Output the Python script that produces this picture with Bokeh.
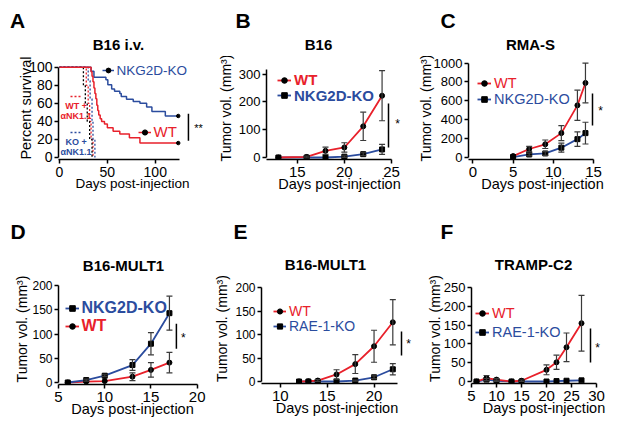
import math
from bokeh.plotting import figure
from bokeh.models import (Range1d, FixedTicker, Label, Legend, LegendItem,
                          Whisker, ColumnDataSource, Arrow, TeeHead, Plot)
from bokeh.layouts import row, column
from bokeh.embed import file_html
from bokeh.resources import INLINE

RED = "#e8212b"
BLUE = "#2b4c9e"
ERR = "#3a3a3a"
FONT = "Liberation Sans"
EXTRA = {"frame_align": False} if "frame_align" in Plot.properties() else {}

# ---------------- data ----------------
# A: survival, B16 i.v.
a_ko_days = [0, 33, 36, 48.5, 50.5, 54.5, 57.5, 63, 64.5, 70, 77, 84, 91, 96.5, 110.5, 124]
a_ko_surv = [100, 95.5, 89, 86, 80.5, 76, 73.5, 71, 67.5, 64.5, 62, 60, 56, 51, 46, 46]
a_wt_days = [0, 33, 34, 35, 36, 37, 38, 39, 40, 41, 42.5, 44, 47, 50, 56, 63, 73, 84, 124]
a_wt_surv = [100, 95, 90, 84, 77, 71, 65, 58, 52, 47, 43, 40, 37, 33, 29, 26, 22, 16, 16]
a_wtnk_days = [0, 28, 30, 31.5, 33, 35]
a_wtnk_surv = [100, 80, 60, 40, 20, 0]
a_blk_days = [0, 25, 27, 29, 31.5, 34]
a_blk_surv = [100, 80, 60, 40, 20, 0]
a_konk_days = [0, 30, 32, 34, 35, 37]
a_konk_surv = [100, 85, 65, 40, 20, 0]

# B: B16
b_days = [13, 16, 18, 20, 22, 24]
b_wt = [0, 2, 24, 36, 112, 222]
b_wt_err = [0, 3, 13, 17, 51, 90]
b_ko = [0, 0, 0, 3, 12, 29]
b_ko_err = [0, 0, 0, 3, 5, 18]

# C: RMA-S
c_days = [5, 7, 9, 11, 13, 14]
c_wt = [15, 90, 140, 258, 552, 789]
c_wt_err = [0, 28, 45, 79, 160, 210]
c_ko = [5, 32, 43, 104, 194, 258]
c_ko_err = [0, 15, 20, 48, 77, 115]

# D: B16-MULT1 (NKG2D-KO vs WT)
d_days = [6, 8, 10, 13, 15, 17]
d_ko = [0, 5, 14, 36, 80, 143]
d_ko_err = [0, 2, 2, 11, 23, 35]
d_wt = [0, 2, 3, 12, 26, 41]
d_wt_err = [0, 0, 0, 8, 15, 21]

# E: B16-MULT1 (WT vs RAE-1-KO)
e_days = [12, 13, 14, 16, 18, 20, 22]
e_wt = [0, 0.5, 2, 15, 37, 75, 126]
e_wt_err = [0, 0, 2, 10, 20, 34, 48]
e_ko = [0, 0, 0, 0, 2, 9, 26]
e_ko_err = [0, 0, 0, 0, 1, 3, 12]

# F: TRAMP-C2
f_days = [6, 8, 10, 13, 15, 20, 22, 24, 27]
f_wt = [0, 9, 5, 0, 2, 31, 51, 91, 155]
f_wt_err = [0, 7, 3, 0, 2, 13, 19, 38, 74]
f_ko = [0, 5, 2, 0, 0, 0, 1, 2, 3]
f_ko_err = [0, 3, 2, 0, 0, 0, 0, 0, 0]

TUM = "Tumor vol. (mm\u00b3)"
XLAB = "Days post-injection"


# ---------------- helpers ----------------
def header(ox, oy, W, Hh, letter, lx, lcy, title, tx, tcy, tsize="15px"):
    hd = figure(width=W, height=Hh, output_backend="svg", toolbar_location=None,
                x_range=Range1d(0, W), y_range=Range1d(0, Hh),
                x_axis_type=None, y_axis_type=None,
                min_border_left=0, min_border_right=0,
                min_border_top=0, min_border_bottom=0, **EXTRA)
    hd.outline_line_color = None
    hd.background_fill_color = "white"
    hd.border_fill_color = "white"
    hd.add_layout(Label(x=lx - ox, y=Hh - (lcy - oy), text=letter, text_font=FONT,
                        text_font_size="21px", text_font_style="bold",
                        text_align="left", text_baseline="middle",
                        text_color="black"))
    hd.add_layout(Label(x=tx - ox, y=Hh - (tcy - oy), text=title, text_font=FONT,
                        text_font_size=tsize, text_font_style="bold",
                        text_align="center", text_baseline="middle",
                        text_color="black"))
    return hd


def make_panel(ox, oy, W, H, Hh, xlo, xhi, xpx0, xpx1, ymax, ypx0, ypxmax,
               xticks, yticks, xts, yts, ylab, ylab_size, ylab_s, xlab_size, xlab_s):
    ppx = (xpx1 - xpx0) / (xhi - xlo)
    ppy = (ypx0 - ypxmax) / ymax
    fig_top = oy + Hh
    fr_right = ox + W
    fr_bot = ypx0 + 2
    p = figure(width=W, height=H - Hh, output_backend="svg", toolbar_location=None,
               x_range=Range1d(xlo, xlo + (fr_right - xpx0) / ppx),
               y_range=Range1d(-(fr_bot - ypx0) / ppy, (ypx0 - fig_top) / ppy),
               min_border_left=int(round(xpx0 - ox)), min_border_right=0,
               min_border_top=0, min_border_bottom=int(round(oy + H - fr_bot)),
               **EXTRA)
    p.outline_line_color = None
    p.grid.visible = False
    p.background_fill_color = "white"
    p.border_fill_color = "white"
    for ax, ticks, fs in ((p.xaxis, xticks, xts), (p.yaxis, yticks, yts)):
        ax.ticker = FixedTicker(ticks=ticks)
        ax.axis_line_width = 1.5
        ax.axis_line_color = "black"
        ax.major_tick_line_width = 1.5
        ax.major_tick_line_color = "black"
        ax.major_tick_out = 4
        ax.major_tick_in = 0
        ax.minor_tick_line_color = None
        ax.major_label_text_font = FONT
        ax.major_label_text_font_size = fs
        ax.major_label_text_color = "black"
        ax.axis_label_text_font = FONT
        ax.axis_label_text_font_style = "normal"
        ax.axis_label_text_color = "black"
    p.xaxis.bounds = (xlo, xhi)
    p.yaxis.bounds = (0, ymax)
    p.xaxis.major_label_standoff = 3
    p.yaxis.major_label_standoff = 2
    p.yaxis.axis_label = ylab
    p.yaxis.axis_label_text_font_size = ylab_size
    p.yaxis.axis_label_standoff = ylab_s
    p.xaxis.axis_label = XLAB
    p.xaxis.axis_label_text_font_size = xlab_size
    p.xaxis.axis_label_standoff = xlab_s
    return dict(p=p, xlo=xlo, xpx0=xpx0, ppx=ppx, ypx0=ypx0, ppy=ppy,
                left=xpx0, bottom=fr_bot)


def X(m, px):
    return m["xlo"] + (px - m["xpx0"]) / m["ppx"]


def Y(m, py):
    return (m["ypx0"] - py) / m["ppy"]


def label(m, text, px, py, size, color="black", bold=False, align="center",
          baseline="middle"):
    m["p"].add_layout(Label(x=X(m, px), y=Y(m, py), text=text, text_font=FONT,
                            text_font_size=size, text_color=color,
                            text_font_style="bold" if bold else "normal",
                            text_align=align, text_baseline=baseline))


def legend(m, renderers, text, color, gx, yc, size, bold=False, gw=13):
    hh = 16
    leg = Legend(items=[LegendItem(label=text, renderers=list(renderers))],
                 location=(gx - m["left"], m["bottom"] - yc - hh / 2),
                 orientation="vertical", padding=0, margin=0, spacing=0,
                 border_line_alpha=0, background_fill_alpha=0,
                 glyph_width=gw, glyph_height=hh, label_height=hh,
                 label_standoff=3, label_text_font=FONT,
                 label_text_font_size=size, label_text_color=color,
                 label_text_font_style="bold" if bold else "normal",
                 label_text_baseline="middle")
    m["p"].add_layout(leg)


def sig(m, px, py1, py2, star, sx, sy, size="12px"):
    m["p"].add_layout(Arrow(end=None, x_start=X(m, px), y_start=Y(m, py1),
                            x_end=X(m, px), y_end=Y(m, py2),
                            line_color="black", line_width=1.5))
    label(m, star, sx, sy, size)


def errbars(p, days, vals, errs):
    xs, up, lo = [], [], []
    for d, v, e in zip(days, vals, errs):
        if e > 0:
            xs.append(d)
            up.append(v + e)
            lo.append(v - e)
    src = ColumnDataSource(dict(x=xs, upper=up, lower=lo))
    p.add_layout(Whisker(source=src, base="x", upper="upper", lower="lower",
                         line_color=ERR, line_width=1.2, level="glyph",
                         upper_head=TeeHead(size=6, line_color=ERR, line_width=1.2),
                         lower_head=TeeHead(size=6, line_color=ERR, line_width=1.2)))


def tumor(m, days, wt, wt_err, ko, ko_err, ko_on_top=False):
    p = m["p"]
    if ko_on_top:
        lw = p.line(days, wt, line_color=RED, line_width=1.8)
        lk = p.line(days, ko, line_color=BLUE, line_width=1.8)
    else:
        lk = p.line(days, ko, line_color=BLUE, line_width=1.8)
        lw = p.line(days, wt, line_color=RED, line_width=1.8)
    errbars(p, days, wt, wt_err)
    errbars(p, days, ko, ko_err)
    sw = p.scatter(days, wt, marker="circle", size=5, color="black")
    sk = p.scatter(days, ko, marker="square", size=5, color="black")
    return (lw, sw), (lk, sk)


# ---------------- Panel A ----------------
hA = header(0, 0, 206, 56, "A", 9.5, 20, "B16 i.v.", 118, 43.5)
mA = make_panel(0, 0, 206, 210, 56, -1, 125, 58.5, 178.8, 100, 156.7, 66.7,
                [0, 50, 100], [0, 20, 40, 60, 80, 100], "14px", "14px",
                "Percent survival", "14.5px", -8, "13.5px", -4)
pA = mA["p"]
r_wtnk = pA.step(a_wtnk_days, a_wtnk_surv, mode="after", line_color=RED,
                 line_width=1.3, line_dash="2 2")
pA.step(a_blk_days, a_blk_surv, mode="after", line_color="black",
        line_width=1.3, line_dash="2 2")
r_konk = pA.step(a_konk_days, a_konk_surv, mode="after", line_color=BLUE,
                 line_width=1.3, line_dash="2 2")
r_ko = pA.step(a_ko_days, a_ko_surv, mode="after", line_color=BLUE, line_width=1.5)
r_wt = pA.step(a_wt_days, a_wt_surv, mode="after", line_color=RED, line_width=1.5)
m_ko = pA.scatter(a_ko_days[-1:], a_ko_surv[-1:], marker="circle", size=3.5, color="black")
m_wt = pA.scatter(a_wt_days[-1:], a_wt_surv[-1:], marker="circle", size=3.5, color="black")
legend(mA, (r_ko, m_ko), "NKG2D-KO", BLUE, 102, 70, "13.5px", gw=12)
legend(mA, (r_wt, m_wt), "WT", RED, 138, 132, "15px", gw=13)
legend(mA, (r_wtnk,), " ", RED, 70, 96, "9px", gw=12)
legend(mA, (r_konk,), " ", BLUE, 70, 132, "9px", gw=12)
label(mA, "WT +", 76, 105, "9px", RED, bold=True)
label(mA, "\u03b1NK1.1", 76, 115, "9px", RED, bold=True)
label(mA, "KO +", 76, 141, "9px", BLUE, bold=True)
label(mA, "\u03b1NK1.1", 76, 151, "9px", BLUE, bold=True)
sig(mA, 188, 113, 140, "**", 198, 127, "11px")

# ---------------- Panel B ----------------
hB = header(206, 0, 206, 56, "B", 235, 20, "B16", 318, 43.5)
mB = make_panel(206, 0, 206, 210, 56, 11.74, 25, 266, 391, 318, 157, 68.5,
                [15, 20, 25], [0, 100, 200, 300], "15px", "13px",
                TUM, "14px", 2, "14.5px", -4)
wtB, koB = tumor(mB, b_days, b_wt, b_wt_err, b_ko, b_ko_err)
legend(mB, wtB, "WT", RED, 277, 80, "15px", bold=True, gw=14)
legend(mB, koB, "NKG2D-KO", BLUE, 277, 95.5, "15px", bold=True, gw=14)
sig(mB, 388, 103, 147, "*", 397, 123)

# ---------------- Panel C ----------------
hC = header(412, 0, 204, 56, "C", 440, 20, "RMA-S", 530, 43.5)
mC = make_panel(412, 0, 204, 210, 56, -0.55, 15, 468, 593, 1000, 157, 62.5,
                [0, 5, 10, 15], [0, 200, 400, 600, 800, 1000], "15px", "13px",
                TUM, "14px", -3, "14.5px", -4)
wtC, koC = tumor(mC, c_days, c_wt, c_wt_err, c_ko, c_ko_err)
legend(mC, wtC, "WT", RED, 477, 83, "14.5px", gw=14)
legend(mC, koC, "NKG2D-KO", BLUE, 477, 98.5, "14.5px", gw=14)
sig(mC, 592, 93, 125, "*", 600, 110)

# ---------------- Panel D ----------------
hD = header(0, 210, 206, 63, "D", 10, 231, "B16-MULT1", 123, 264.5)
mD = make_panel(0, 210, 206, 211, 63, 5, 20, 58.5, 196.7, 200, 381.7, 285,
                [5, 10, 15, 20], [0, 50, 100, 150, 200], "15px", "12px",
                TUM, "14px", -1, "14.5px", -4)
wtD, koD = tumor(mD, d_days, d_wt, d_wt_err, d_ko, d_ko_err, ko_on_top=True)
legend(mD, koD, "NKG2D-KO", BLUE, 65, 308.5, "16px", bold=True, gw=14)
legend(mD, wtD, "WT", RED, 65, 326.5, "16px", bold=True, gw=14)
sig(mD, 176, 323, 348, "*", 183, 337)

# ---------------- Panel E ----------------
hE = header(206, 210, 206, 63, "E", 233, 231, "B16-MULT1", 325, 263.5)
mE = make_panel(206, 210, 206, 211, 63, 8, 22.5, 261, 397, 200, 381, 287,
                [10, 15, 20], [0, 50, 100, 150, 200], "15px", "12px",
                TUM, "14px", 2, "14.5px", -4)
wtE, koE = tumor(mE, e_days, e_wt, e_wt_err, e_ko, e_ko_err)
legend(mE, wtE, "WT", RED, 273, 311, "14px")
legend(mE, koE, "RAE-1-KO", BLUE, 273, 326, "14px")
sig(mE, 401, 331, 355, "*", 408, 343)

# ---------------- Panel F ----------------
hF = header(412, 210, 204, 63, "F", 440, 231, "TRAMP-C2", 533, 263.5)
mF = make_panel(412, 210, 204, 211, 63, 5, 30, 471, 596, 250, 381, 287,
                [5, 10, 15, 20, 25, 30], [0, 50, 100, 150, 200, 250], "15px", "13px",
                TUM, "14px", -2, "14.5px", -4)
wtF, koF = tumor(mF, f_days, f_wt, f_wt_err, f_ko, f_ko_err)
legend(mF, wtF, "WT", RED, 475, 313, "14.5px", gw=14)
legend(mF, koF, "RAE-1-KO", BLUE, 475, 332, "14.5px", gw=14)
sig(mF, 590, 328, 362, "*", 597, 347)

layout = column(
    row(column(hA, pA), column(hB, mB["p"]), column(hC, mC["p"])),
    row(column(hD, mD["p"]), column(hE, mE["p"]), column(hF, mF["p"])),
)
open("out.html", "w").write(file_html(layout, INLINE))
